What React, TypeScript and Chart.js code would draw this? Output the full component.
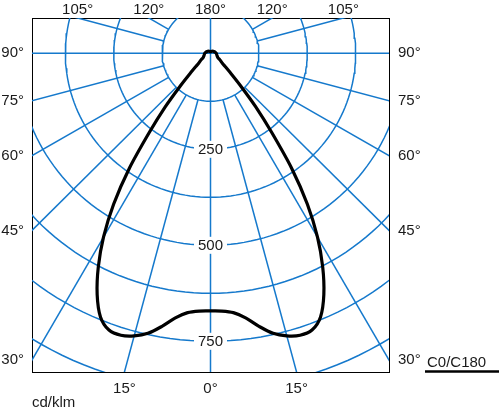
import React, { useEffect, useRef } from "react";
import { Chart, registerables } from "chart.js";

Chart.register(...registerables);

// ---- data (cd/klm, C0/C180 plane, symmetric) ----
const curveAngles = [0, 2.5, 5, 7.5, 10, 12.5, 15, 17.5, 20, 22.5, 25, 27.5, 30, 32.5, 35, 37.5, 40, 42.5, 45, 47.5, 50, 55, 60, 70, 80, 90, 105, 120, 135, 150, 165, 180];
const curveC0C180 = [671, 672, 678, 695, 722, 747, 762, 770, 767, 743, 693, 628, 553, 466, 366, 260, 182, 117, 76, 53, 40, 30, 22, 18, 16, 15, 12, 10, 8, 6, 5, 4];

const ringValues = [125, 250, 375, 500, 625, 750, 875, 1000];
const ringLabels = [250, 500, 750];
const spokeAngles = [15, 30, 45, 60, 75, 105, 120];
const sideTickAngles = [90, 75, 60, 45, 30];
const bottomTickAngles = [-15, 0, 15];
const topTickAngles = [-105, -120, 180, 120, 105];
const legendLabel = "C0/C180";
const unitLabel = "cd/klm";

// ---- view window (cd/klm units) ----
const X_MAX = 461.25;
const Y_MIN = -830;
const Y_MAX = 92;

const GRID = "#1579cc";
const INK = "#1a1a1a";
const FONT = '"Liberation Sans", Arial, Helvetica, sans-serif';

const rad = (d: number) => (d * Math.PI) / 180;
function polar(r: number, deg: number) {
  const t = rad(deg);
  return { x: r * Math.sin(t), y: -r * Math.cos(t) };
}

function buildCurve() {
  const pts: { x: number; y: number }[] = [];
  for (let i = curveAngles.length - 1; i >= 0; i--) pts.push(polar(curveC0C180[i], -curveAngles[i]));
  for (let i = 1; i < curveAngles.length; i++) pts.push(polar(curveC0C180[i], curveAngles[i]));
  return pts;
}

function gridDatasets() {
  const ds: any[] = [];
  const base = {
    borderColor: GRID,
    borderWidth: 1.5,
    pointRadius: 0,
    showLine: true,
    tension: 0,
    fill: false,
  };
  for (const r of ringValues) {
    const pts = [];
    for (let a = 0; a <= 360; a += 2) pts.push(polar(r, a));
    ds.push({ ...base, data: pts });
  }
  for (const a of spokeAngles) {
    for (const s of [-1, 1]) {
      ds.push({ ...base, data: [polar(ringValues[0], s * a), polar(2000, s * a)] });
    }
  }
  ds.push({ ...base, data: [{ x: -2000, y: 0 }, { x: 2000, y: 0 }] });
  ds.push({ ...base, data: [{ x: 0, y: -2000 }, { x: 0, y: 2000 }] });
  return ds;
}

const deg = (a: number) => `${Math.abs(a)}\u00b0`;
const sideTickValues = sideTickAngles.map((a) => (a === 90 ? 0 : -X_MAX / Math.tan(rad(a))));
const bottomTickValues = bottomTickAngles.map((a) => -Y_MIN * Math.tan(rad(a)));
const topTickValues = topTickAngles.map((a) => {
  const abs = Math.abs(a);
  if (abs === 180) return 0;
  return Math.sign(a) * (Y_MAX / Math.tan(rad(abs - 90)));
});

function fixedAxis(position: string, min: number, max: number, values: number[], labels: string[], size: number, padding: number, extra: any = {}) {
  const horizontal = position === "top" || position === "bottom";
  return {
    type: "linear",
    position,
    min,
    max,
    grid: { display: false, drawTicks: false },
    border: { display: true, color: "#000", width: 1 },
    afterBuildTicks: (scale: any) => {
      scale.ticks = values.map((v) => ({ value: v }));
    },
    afterFit: (scale: any) => {
      if (horizontal) scale.height = size;
      else scale.width = size;
    },
    ticks: {
      autoSkip: false,
      maxRotation: 0,
      minRotation: 0,
      padding,
      color: INK,
      font: { family: FONT, size: 15 },
      callback: (_v: any, i: number) => labels[i],
    },
    ...extra,
  };
}

const overlayPlugin = {
  id: "overlay",
  afterDatasetsDraw(chart: any) {
    const { ctx, scales, chartArea } = chart;
    const xs = scales.x;
    const ys = scales.y;
    ctx.save();
    ctx.font = `15px ${FONT}`;
    ctx.textAlign = "center";
    ctx.textBaseline = "middle";
    for (const v of ringLabels) {
      const px = xs.getPixelForValue(0);
      const py = ys.getPixelForValue(-v);
      const t = String(v);
      const w = ctx.measureText(t).width + 8;
      ctx.fillStyle = "#fff";
      ctx.fillRect(px - w / 2, py - 8.5, w, 17);
      ctx.fillStyle = INK;
      ctx.fillText(t, px, py + 1);
    }
    // legend: label with line sample underneath
    ctx.textAlign = "left";
    ctx.textBaseline = "alphabetic";
    ctx.fillStyle = INK;
    ctx.fillText(legendLabel, chartArea.right + 38, chartArea.bottom - 5);
    ctx.strokeStyle = "#000";
    ctx.lineWidth = 2.6;
    ctx.beginPath();
    ctx.moveTo(chartArea.right + 36, chartArea.bottom - 0.5);
    ctx.lineTo(chartArea.right + 110, chartArea.bottom - 0.5);
    ctx.stroke();
    ctx.restore();
  },
};

export default function App() {
  const ref = useRef<HTMLCanvasElement>(null);
  useEffect(() => {
    if (!ref.current) return;
    const chart = new Chart(ref.current, {
      type: "scatter",
      data: {
        datasets: [
          {
            label: legendLabel,
            data: buildCurve(),
            borderColor: "#000",
            borderWidth: 3.2,
            pointRadius: 0,
            showLine: true,
            tension: 0.3,
            fill: false,
            borderJoinStyle: "round",
            borderCapStyle: "round",
          } as any,
          ...gridDatasets(),
        ],
      },
      options: {
        responsive: false,
        animation: false,
        devicePixelRatio: 1,
        layout: { padding: 0 },
        plugins: { legend: { display: false }, tooltip: { enabled: false } },
        events: [],
        scales: {
          x: fixedAxis("bottom", -X_MAX, X_MAX, bottomTickValues, bottomTickAngles.map(deg), 37, 7.5, {
            title: {
              display: true,
              text: unitLabel,
              align: "start",
              color: INK,
              font: { family: FONT, size: 15, lineHeight: 0.8 },
              padding: 0,
            },
          }),
          x2: fixedAxis("top", -X_MAX, X_MAX, topTickValues, topTickAngles.map(deg), 15, -1),
          y: fixedAxis("left", Y_MIN, Y_MAX, sideTickValues, sideTickAngles.map(deg), 32, 8),
          y2: fixedAxis("right", Y_MIN, Y_MAX, sideTickValues, sideTickAngles.map(deg), 111, 9),
        } as any,
      },
      plugins: [overlayPlugin],
    } as any);
    return () => chart.destroy();
  }, []);
  return (
    <div style={{ position: "fixed", left: 0, top: 0, width: 500, height: 409, background: "#fff" }}>
      <canvas ref={ref} width={500} height={409} style={{ display: "block", width: 500, height: 409 }} />
    </div>
  );
}
